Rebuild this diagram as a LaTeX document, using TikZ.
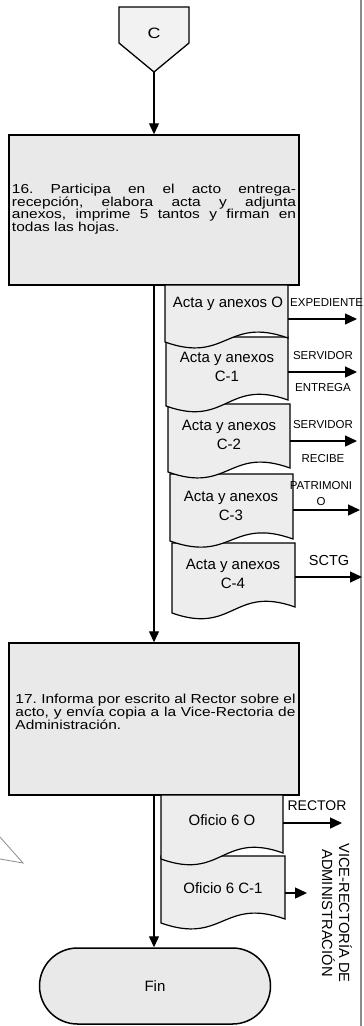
\documentclass[tikz,border=0pt]{standalone}
\usepackage{fontspec}
\setmainfont{Liberation Sans}
\newfontfamily\widef{Liberation Sans}[FakeStretch=1.19]
\usetikzlibrary{arrows.meta,shapes.misc}
\definecolor{boxgray}{RGB}{233,233,233}
\definecolor{docgray}{RGB}{237,237,237}
\definecolor{pentgray}{RGB}{242,242,242}
\definecolor{edgegray}{RGB}{140,140,140}
\newcommand{\docshape}[5]{%
  \draw[docsty] (#1,#2) -- (#3,#2) -- (#3,#5)
    .. controls ({(#1+#3)/2},{#5-22}) and ({(#1+#3)/2},{#4+22}) .. (#1,#4) -- cycle;}
\frenchspacing
\begin{document}
\begin{tikzpicture}[x=1pt,y=-1pt,
  box/.style={draw=black,line width=1.5pt,fill=boxgray,minimum width=290pt,inner sep=0pt},
  boxtext/.style={inner sep=0pt,align=justify,font=\widef\fontsize{13}{12.7}\selectfont\frenchspacing},
  docsty/.style={draw=black,line width=1.2pt,fill=docgray},
  doctext/.style={inner sep=0pt,align=center,font=\fontsize{15}{18.5}\selectfont},
  lab/.style={inner sep=0pt,align=center,font=\fontsize{11.5}{16}\selectfont},
  conn/.style={draw=black,line width=1.4pt,-{Triangle[length=11pt,width=10pt]}},
  outarr/.style={draw=black,line width=1.4pt,-{Triangle[length=12pt,width=11pt]}}
]
\useasboundingbox (0,0) rectangle (364,1026);
% right border line
\draw[edgegray,line width=1.6pt] (361,0) -- (361,1026);
% stray wedge at left
\draw[edgegray,line width=0.8pt] (0,837) -- (23,863) -- (0,859);

% off-page connector C
\draw[draw=black,line width=1.3pt,fill=pentgray] (119,7) -- (189,7) -- (189,43) -- (154,72) -- (119,43) -- cycle;
\node[inner sep=0pt,font=\widef\fontsize{15}{18}\selectfont] (cC) at (154,33) {C};
\coordinate (ctip) at (154,72);

% box 16
\node[box,minimum height=150pt] (b16) at (154,210) {};
\node[boxtext,text width=284pt] (t16) at (154,209)
  {16. Participa en el acto entrega-\linebreak recepción, elabora acta y adjunta\linebreak anexos, imprime 5 tantos y firman en\linebreak todas las hojas.};

% box 17
\node[box,minimum height=152pt] (b17) at (154,719) {};
\node[boxtext,text width=280pt] (t17) at (155.5,712)
  {17. Informa por escrito al Rector sobre el\linebreak acto, y envía copia a la Vice-Rectoria de\linebreak Administración.};

% Fin
\node[rounded rectangle,draw=black,line width=1.5pt,fill=boxgray,minimum width=231pt,minimum height=76pt,inner sep=0pt,font=\fontsize{15}{18}\selectfont] (fin) at (155,986) {Fin};

% main connectors
\draw[conn] (ctip) -- (b16.north);
\draw[conn] (b16.south) -- (b17.north);
\draw[conn] (b17.south) -- (b17.south |- fin.north);

% documents of step 16 (bottom first)
\docshape{172}{543}{295}{613}{607}
\docshape{170}{474}{293}{541}{539}
\docshape{168}{404}{290}{472}{468}
\docshape{166}{337}{288}{406}{400}
\docshape{165}{285}{288}{342}{338}
\node[doctext] (d1t) at (228,304) {Acta y anexos O};
\node[doctext] (d2t) at (227,367) {Acta y anexos\\C-1};
\node[doctext] (d3t) at (229,435) {Acta y anexos\\C-2};
\node[doctext] (d4t) at (231,506) {Acta y anexos\\C-3};
\node[doctext] (d5t) at (233,574) {Acta y anexos\\C-4};

\coordinate (d1e) at (288,319); \coordinate (o1) at (357,319);
\coordinate (d2e) at (288,372); \coordinate (o2) at (357,372);
\coordinate (d3e) at (290,441); \coordinate (o3) at (357,441);
\coordinate (d4e) at (293,510); \coordinate (o4) at (360,510);
\coordinate (d5e) at (295,577); \coordinate (o5) at (362,577);
\draw[outarr] (d1e) -- (o1);
\draw[outarr] (d2e) -- (o2);
\draw[outarr] (d3e) -- (o3);
\draw[outarr] (d4e) -- (o4);
\draw[outarr] (d5e) -- (o5);

\node[lab,anchor=west] (l1) at (290,303) {EXPEDIENTE};
\node[lab] (l2a) at (323,356) {SERVIDOR};
\node[lab] (l2b) at (323,388) {ENTREGA};
\node[lab] (l3a) at (323,425) {SERVIDOR};
\node[lab] (l3b) at (323,459) {RECIBE};
\node[lab] (l4) at (321,494) {PATRIMONI\\O};
\node[lab,font=\fontsize{14.5}{17}\selectfont] (l5) at (329,561) {SCTG};

% documents of step 17
\docshape{161}{856}{285}{923}{919}
\docshape{161}{795}{283}{859}{853}
\node[doctext] (d6t) at (222,820) {Oficio 6 O};
\node[doctext] (d7t) at (223,888) {Oficio 6 C-1};
\coordinate (d6e) at (283,823); \coordinate (o6) at (342,823);
\coordinate (d7e) at (285,893); \coordinate (o7) at (307,893);
\draw[outarr] (d6e) -- (o6);
\draw[outarr] (d7e) -- (o7);
\node[lab,font=\fontsize{14}{17}\selectfont] (l6) at (317,806) {RECTOR};
\node[lab,rotate=-90,font=\fontsize{14.7}{17}\selectfont] (l7) at (337,913) {VICE-RECTORÍA DE\\ADMINISTRACIÓN};
\end{tikzpicture}
\end{document}
